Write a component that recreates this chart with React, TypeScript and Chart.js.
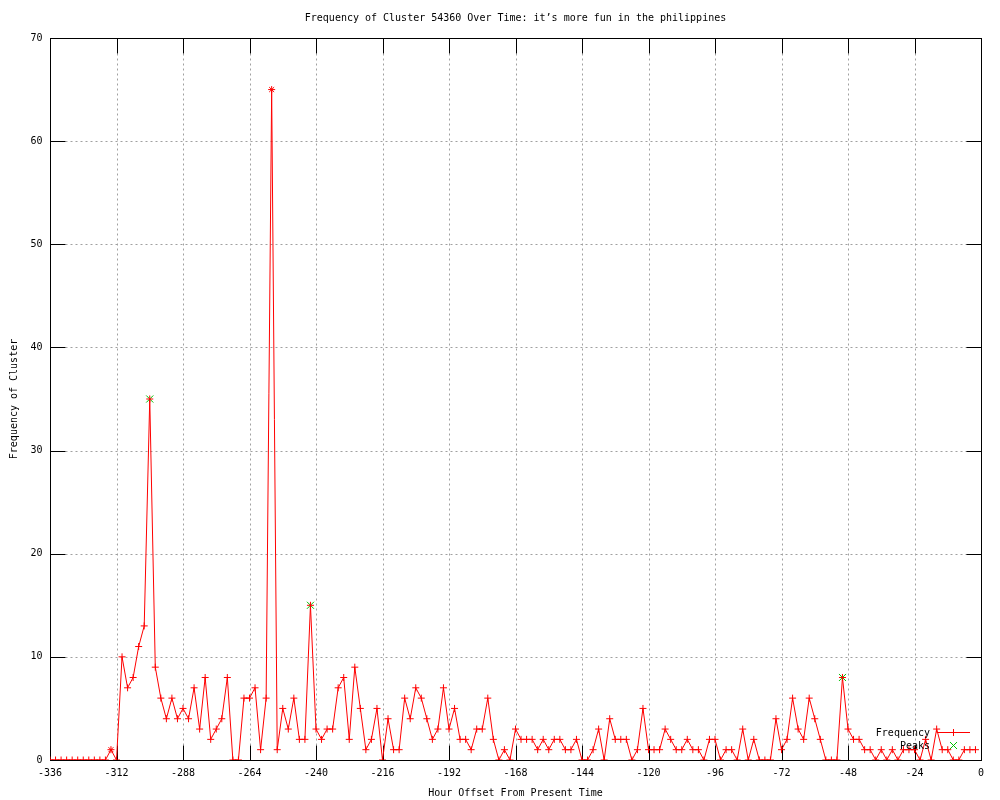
import React, { useEffect, useRef } from "react";
import { Chart, registerables } from "chart.js";

Chart.register(...registerables);

const START_HOUR = -336;
const STEP_HOURS = 2;

const frequency: number[] = [
  0, 0, 0, 0, 0, 0, 0, 0, 0, 0, 0, 1, 0, 10, 7, 8, 11, 13, 35, 9,
  6, 4, 6, 4, 5, 4, 7, 3, 8, 2, 3, 4, 8, 0, 0, 6, 6, 7, 1, 6,
  65, 1, 5, 3, 6, 2, 2, 15, 3, 2, 3, 3, 7, 8, 2, 9, 5, 1, 2, 5,
  0, 4, 1, 1, 6, 4, 7, 6, 4, 2, 3, 7, 3, 5, 2, 2, 1, 3, 3, 6,
  2, 0, 1, 0, 3, 2, 2, 2, 1, 2, 1, 2, 2, 1, 1, 2, 0, 0, 1, 3,
  0, 4, 2, 2, 2, 0, 1, 5, 1, 1, 1, 3, 2, 1, 1, 2, 1, 1, 0, 2,
  2, 0, 1, 1, 0, 3, 0, 2, 0, 0, 0, 4, 1, 2, 6, 3, 2, 6, 4, 2,
  0, 0, 0, 8, 3, 2, 2, 1, 1, 0, 1, 0, 1, 0, 1, 1, 1, 0, 2, 0,
  3, 1, 1, 0, 0, 1, 1, 1,
];

const starHours: number[] = [-314, -256];

const peakHours: number[] = [-300, -242, -50];
const peakValues: number[] = [35, 15, 8];

const xTickLabels: number[] = [-336, -312, -288, -264, -240, -216, -192, -168, -144, -120, -96, -72, -48, -24, 0];
const yTickLabels: number[] = [0, 10, 20, 30, 40, 50, 60, 70];

const TITLE = "Frequency of Cluster 54360 Over Time: it\u2019s more fun in the philippines";
const X_TITLE = "Hour Offset From Present Time";
const Y_TITLE = "Frequency of Cluster";

const RED = "#ff0000";
const GREEN = "#00c000";
const FONT = '10px "DejaVu Sans Mono", "Liberation Mono", monospace';

export default function App() {
  const ref = useRef<HTMLCanvasElement | null>(null);

  useEffect(() => {
    const canvas = ref.current;
    if (!canvas) return;

    const hours = frequency.map((_, i) => START_HOUR + i * STEP_HOURS);
    const freqData = hours.map((h, i) => ({ x: h, y: frequency[i] }));
    const pointStyles = hours.map((h) => (starHours.includes(h) ? "star" : "cross"));
    const peakData = peakHours.map((h, i) => ({ x: h, y: peakValues[i] }));

    const framePlugin = {
      id: "gnuframe",
      beforeDatasetsDraw(chart: any) {
        const { ctx, chartArea } = chart;
        const xs = chart.scales.x;
        const ys = chart.scales.y;
        const L = Math.round(chartArea.left) + 0.5;
        const R = Math.round(chartArea.right) + 0.5;
        const T = Math.round(chartArea.top) + 0.5;
        const B = Math.round(chartArea.bottom) + 0.5;
        ctx.save();
        // grid
        ctx.strokeStyle = "#a0a0a0";
        ctx.lineWidth = 1;
        ctx.setLineDash([2, 3]);
        xTickLabels.forEach((v) => {
          const px = Math.round(xs.getPixelForValue(v)) + 0.5;
          if (Math.abs(px - L) < 1 || Math.abs(px - R) < 1) return;
          ctx.beginPath();
          ctx.moveTo(px, B);
          ctx.lineTo(px, T);
          ctx.stroke();
        });
        yTickLabels.forEach((v) => {
          const py = Math.round(ys.getPixelForValue(v)) + 0.5;
          if (Math.abs(py - T) < 1 || Math.abs(py - B) < 1) return;
          ctx.beginPath();
          ctx.moveTo(L, py);
          ctx.lineTo(R, py);
          ctx.stroke();
        });
        ctx.setLineDash([]);
        // border
        ctx.strokeStyle = "#000000";
        ctx.strokeRect(L, T, R - L, B - T);
        // ticks
        const TL = 15;
        xTickLabels.forEach((v) => {
          const px = Math.round(xs.getPixelForValue(v)) + 0.5;
          ctx.beginPath();
          ctx.moveTo(px, B);
          ctx.lineTo(px, B - TL);
          ctx.moveTo(px, T);
          ctx.lineTo(px, T + TL);
          ctx.stroke();
        });
        yTickLabels.forEach((v) => {
          const py = Math.round(ys.getPixelForValue(v)) + 0.5;
          ctx.beginPath();
          ctx.moveTo(L, py);
          ctx.lineTo(L + TL, py);
          ctx.moveTo(R, py);
          ctx.lineTo(R - TL, py);
          ctx.stroke();
        });
        // labels
        ctx.fillStyle = "#000000";
        ctx.font = FONT;
        ctx.textBaseline = "middle";
        ctx.textAlign = "center";
        xTickLabels.forEach((v) => {
          const px = xs.getPixelForValue(v);
          ctx.fillText(String(v), px, B + 13);
        });
        ctx.textAlign = "right";
        yTickLabels.forEach((v) => {
          const py = ys.getPixelForValue(v);
          ctx.fillText(String(v), L - 8, py);
        });
        ctx.textAlign = "center";
        const cx = (chartArea.left + chartArea.right) / 2;
        ctx.fillText(TITLE, cx, 18);
        ctx.fillText(X_TITLE, cx, 793);
        ctx.save();
        ctx.translate(14, (chartArea.top + chartArea.bottom) / 2);
        ctx.rotate(-Math.PI / 2);
        ctx.fillText(Y_TITLE, 0, 0);
        ctx.restore();
        ctx.restore();
      },
      afterDatasetsDraw(chart: any) {
        const { ctx } = chart;
        ctx.save();
        ctx.font = FONT;
        ctx.fillStyle = "#000000";
        ctx.textAlign = "right";
        ctx.textBaseline = "middle";
        ctx.fillText("Frequency", 930, 733);
        ctx.fillText("Peaks", 930, 746);
        ctx.strokeStyle = RED;
        ctx.lineWidth = 1;
        ctx.beginPath();
        ctx.moveTo(937, 732.5);
        ctx.lineTo(970, 732.5);
        ctx.moveTo(953.5, 729);
        ctx.lineTo(953.5, 736);
        ctx.stroke();
        ctx.strokeStyle = GREEN;
        ctx.beginPath();
        ctx.moveTo(950, 742);
        ctx.lineTo(957, 749);
        ctx.moveTo(957, 742);
        ctx.lineTo(950, 749);
        ctx.stroke();
        ctx.restore();
      },
    };

    const chart = new Chart(canvas, {
      type: "line",
      data: {
        datasets: [
          {
            label: "Frequency",
            data: freqData,
            borderColor: RED,
            backgroundColor: RED,
            borderWidth: 1,
            tension: 0,
            pointStyle: pointStyles as any,
            pointRadius: 3.5,
            pointBorderColor: RED,
            pointBorderWidth: 1,
            pointHoverRadius: 3.5,
            fill: false,
          },
          {
            label: "Peaks",
            data: peakData,
            showLine: false,
            borderColor: GREEN,
            backgroundColor: GREEN,
            pointStyle: "crossRot",
            pointRadius: 5,
            pointBorderColor: GREEN,
            pointBorderWidth: 1,
          },
        ],
      },
      options: {
        responsive: false,
        animation: false,
        events: [],
        layout: { padding: { top: 38, right: 19, left: 0, bottom: 0 } },
        plugins: {
          legend: { display: false },
          title: { display: false },
          tooltip: { enabled: false },
        },
        scales: {
          x: {
            type: "linear",
            min: -336,
            max: 0,
            ticks: { display: false, stepSize: 24 },
            grid: { display: false, drawTicks: false },
            border: { display: false },
            afterFit: (s: any) => {
              s.height = 40;
            },
          },
          y: {
            type: "linear",
            min: 0,
            max: 70,
            ticks: { display: false, stepSize: 10 },
            grid: { display: false, drawTicks: false },
            border: { display: false },
            afterFit: (s: any) => {
              s.width = 50;
            },
          },
        },
      },
      plugins: [framePlugin],
    });

    return () => chart.destroy();
  }, []);

  return (
    <div style={{ position: "absolute", left: 0, top: 0, width: 1000, height: 800, background: "#ffffff" }}>
      <canvas ref={ref} width={1000} height={800} style={{ display: "block" }} />
    </div>
  );
}
